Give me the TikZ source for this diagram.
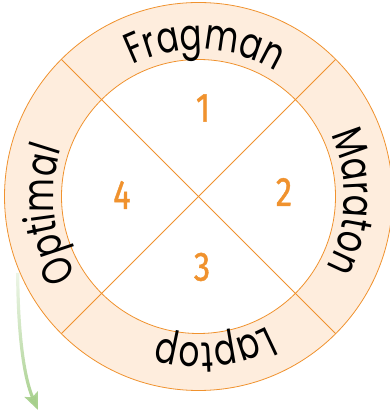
\documentclass[tikz,border=0pt]{standalone}
\usepackage{fontspec}
\newfontfamily\ringfont{Poppins}[FakeStretch=0.76]
\newfontfamily\numfont{Fira Sans}[FakeBold=1.2]
\usetikzlibrary{calc,decorations.text,arrows.meta,fadings}
\definecolor{ringfill}{HTML}{FEEDDD}
\definecolor{ringline}{HTML}{F0922E}
\definecolor{numcol}{HTML}{F0922E}
\definecolor{arrowgreen}{HTML}{A6CF8B}
\tikzfading[name=arrowfade, top color=transparent!80, middle color=transparent!20, bottom color=transparent!0]
\tikzset{
  ringstroke/.style={draw=ringline, line width=0.8pt},
  numlabel/.style={text=numcol, font=\numfont\fontsize{41}{41}\selectfont, inner sep=0pt},
  ringtext/.style={decorate, decoration={text along path, text align=center, text={|\ringfont\fontsize{43}{43}\selectfont|#1}}}
}
\begin{document}
\begin{tikzpicture}[x=1pt,y=1pt]
\useasboundingbox (0,0) rectangle (389,414);
\coordinate (c) at (198.5,217.5);
\fill[ringfill] (c) circle (194);
\fill[white] (c) circle (137);
\draw[ringstroke] (c) circle (194);
\draw[ringstroke] (c) circle (137);
\coordinate (ne) at ($(c)+(45:194)$);
\coordinate (sw) at ($(c)+(225:194)$);
\coordinate (nw) at ($(c)+(135:194)$);
\coordinate (se) at ($(c)+(-45:194)$);
\draw[ringstroke] (ne) -- (sw);
\draw[ringstroke] (nw) -- (se);
% numbers
\node[numlabel] (n1) at (203,306) {\scalebox{0.8}[1]{1}};
\node[numlabel] (n2) at (284,222) {\scalebox{0.8}[1]{2}};
\node[numlabel] (n3) at (202,147) {\scalebox{0.8}[1]{3}};
\node[numlabel] (n4) at (122,219) {\scalebox{0.8}[1]{4}};
% ring texts (clockwise)
\path[ringtext=Fragman] ($(c)+(132:147)$) arc[start angle=132, end angle=43, radius=147];
\path[ringtext=Maraton] ($(c)+(43:146)$) arc[start angle=43, end angle=-47, radius=146];
\path[ringtext=Laptop] ($(c)+(-40:147)$) arc[start angle=-40, end angle=-128, radius=147];
\path[ringtext=Optimal] ($(c)+(232:145)$) arc[start angle=232, end angle=142, radius=145];
% arrow
\coordinate (as) at (17.7,141);
\coordinate (ae) at (38,4);
\draw[arrowgreen, line width=3.2pt, path fading=arrowfade, -{Stealth[length=17pt,width=14pt,inset=3pt]}]
  (as) .. controls (18,74) and (25,34) .. (ae);
\end{tikzpicture}
\end{document}
